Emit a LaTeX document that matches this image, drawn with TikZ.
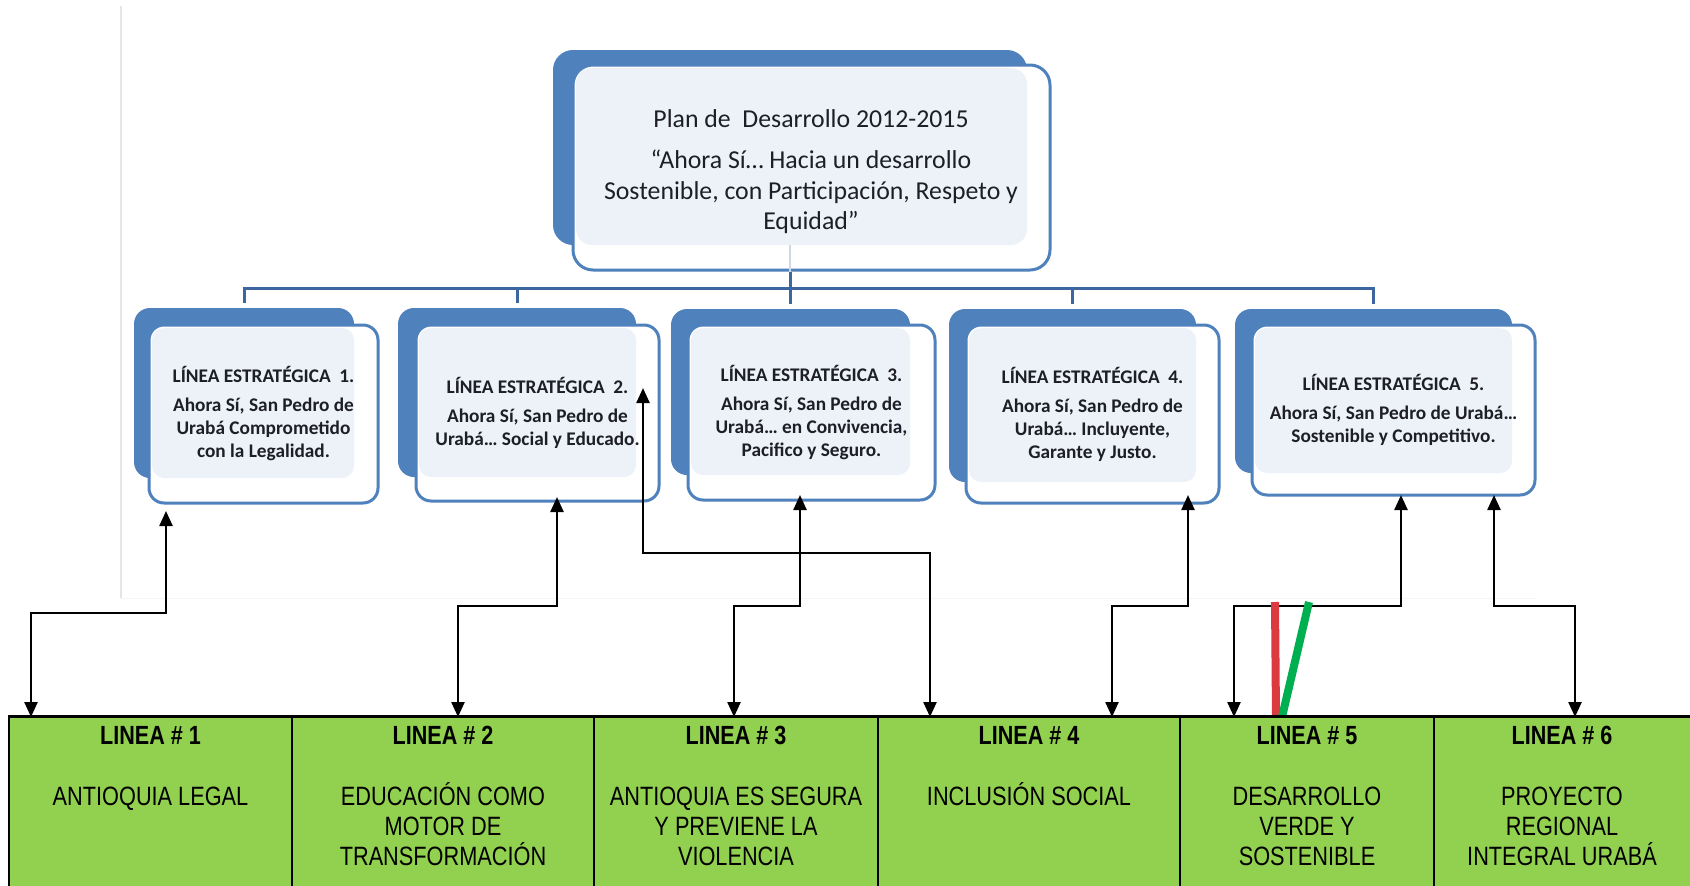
\documentclass[tikz,border=0pt]{standalone}
\usepackage{fontspec}
\newfontfamily\calfont{Carlito}
\newfontfamily\arialfont[FakeStretch=0.82]{Liberation Sans}
\usetikzlibrary{arrows.meta,fit}
\definecolor{accblue}{HTML}{4F81BD}
\definecolor{lightfill}{HTML}{EDF2F9}
\definecolor{treeblue}{HTML}{3B66A0}
\definecolor{tabgreen}{HTML}{92D050}
\definecolor{slashred}{HTML}{DA3A40}
\definecolor{slashgreen}{HTML}{00AF50}
\definecolor{txt}{HTML}{1E1E28}
\begin{document}
\begin{tikzpicture}[x=1pt,y=-1pt,
  backshape/.style={fill=accblue, rounded corners=16pt, inner sep=0pt},
  frontframe/.style={draw=accblue, line width=3pt, rounded corners=15pt, inner sep=0pt},
  lightpart/.style={fill=lightfill, rounded corners=12pt},
  stext/.style={font=\calfont\bfseries\fontsize{19.3}{23}\selectfont, text=txt, align=center, inner sep=0pt},
  ttext/.style={font=\calfont\fontsize{25.8}{31}\selectfont, text=txt, anchor=base, inner sep=0pt},
  tree/.style={draw=treeblue, line width=3pt},
  biarr/.style={line width=2.4pt, {Triangle[length=15pt,width=13pt]}-{Triangle[length=15pt,width=13pt]}},
  cell/.style={fill=tabgreen, draw=black, line width=2pt, inner sep=0pt},
  ltitle/.style={font=\arialfont\bfseries\fontsize{26.3}{30}\selectfont, anchor=base, inner sep=0pt},
  lbody/.style={font=\arialfont\fontsize{26.5}{30}\selectfont, anchor=base, inner sep=0pt},
]
\useasboundingbox (0,0) rectangle (1690,886);
\clip (0,0) rectangle (1690,886);
\fill[white] (0,0) rectangle (1690,886);

% faint frame of an embedded picture
\coordinate (fg1) at (121,6); \coordinate (fg2) at (121,598); \coordinate (fg3) at (1535,598);
\draw[black!10, line width=1.5pt] (fg1) -- (fg2);
\draw[black!4, line width=1pt] (fg2) -- (fg3);

% ---------- top box ----------
\coordinate (b0nw) at (553,50); \coordinate (b0se) at (1027,245);
\coordinate (s0nw) at (573,65); \coordinate (s0se) at (1050,270);
\node[backshape, rounded corners=20pt, fit=(b0nw)(b0se)] (b0) {};
\fill[white, rounded corners=20pt] (s0nw) rectangle (s0se);
\fill[lightpart, rounded corners=16pt] ([xshift=3pt,yshift=-3pt]s0nw) rectangle (b0se);
\node[frontframe, rounded corners=20pt, fit=(s0nw)(s0se)] (s0) {};
\node[ttext] (t0a) at (811,127) {Plan de\ \ Desarrollo 2012-2015};
\node[ttext] (t0b) at (811,168) {“Ahora Sí… Hacia un desarrollo};
\node[ttext] (t0c) at (811,199) {Sostenible, con Participación, Respeto y};
\node[ttext] (t0d) at (811,229) {Equidad”};

% ---------- strategic boxes ----------
% box 1
\coordinate (b1nw) at (134,308); \coordinate (b1se) at (354,478);
\coordinate (s1nw) at (149,325); \coordinate (s1se) at (378,503);
\node[backshape, fit=(b1nw)(b1se)] (b1) {};
\fill[white, rounded corners=15pt] (s1nw) rectangle (s1se);
\fill[lightpart] ([xshift=3pt,yshift=-3pt]s1nw) rectangle (b1se);
\node[frontframe, fit=(s1nw)(s1se)] (s1) {};
\node[stext] (s1t) at (s1.center) {LÍNEA ESTRATÉGICA\ \ 1.\\[6pt]Ahora Sí, San Pedro de\\Urabá Comprometido\\con la Legalidad.};
% box 2
\coordinate (b2nw) at (398,308); \coordinate (b2se) at (636,477);
\coordinate (s2nw) at (416,325); \coordinate (s2se) at (659,501);
\node[backshape, fit=(b2nw)(b2se)] (b2) {};
\fill[white, rounded corners=15pt] (s2nw) rectangle (s2se);
\fill[lightpart] ([xshift=3pt,yshift=-3pt]s2nw) rectangle (b2se);
\node[frontframe, fit=(s2nw)(s2se)] (s2) {};
\node[stext] (s2t) at (s2.center) {LÍNEA ESTRATÉGICA\ \ 2.\\[6pt]Ahora Sí, San Pedro de\\Urabá… Social y Educado.};
% box 3
\coordinate (b3nw) at (671,309); \coordinate (b3se) at (910,475);
\coordinate (s3nw) at (688,325); \coordinate (s3se) at (935,500);
\node[backshape, fit=(b3nw)(b3se)] (b3) {};
\fill[white, rounded corners=15pt] (s3nw) rectangle (s3se);
\fill[lightpart] ([xshift=3pt,yshift=-3pt]s3nw) rectangle (b3se);
\node[frontframe, fit=(s3nw)(s3se)] (s3) {};
\node[stext] (s3t) at (s3.center) {LÍNEA ESTRATÉGICA\ \ 3.\\[6pt]Ahora Sí, San Pedro de\\Urabá… en Convivencia,\\Pacifico y Seguro.};
% box 4
\coordinate (b4nw) at (949,309); \coordinate (b4se) at (1196,482);
\coordinate (s4nw) at (966,325); \coordinate (s4se) at (1219,503);
\node[backshape, fit=(b4nw)(b4se)] (b4) {};
\fill[white, rounded corners=15pt] (s4nw) rectangle (s4se);
\fill[lightpart] ([xshift=3pt,yshift=-3pt]s4nw) rectangle (b4se);
\node[frontframe, fit=(s4nw)(s4se)] (s4) {};
\node[stext] (s4t) at (s4.center) {LÍNEA ESTRATÉGICA\ \ 4.\\[6pt]Ahora Sí, San Pedro de\\Urabá… Incluyente,\\Garante y Justo.};
% box 5
\coordinate (b5nw) at (1235,309); \coordinate (b5se) at (1512,473);
\coordinate (s5nw) at (1252,325); \coordinate (s5se) at (1535,495);
\node[backshape, fit=(b5nw)(b5se)] (b5) {};
\fill[white, rounded corners=15pt] (s5nw) rectangle (s5se);
\fill[lightpart] ([xshift=3pt,yshift=-3pt]s5nw) rectangle (b5se);
\node[frontframe, fit=(s5nw)(s5se)] (s5) {};
\node[stext] (s5t) at (s5.center) {LÍNEA ESTRATÉGICA\ \ 5.\\[6pt]Ahora Sí, San Pedro de Urabá…\\Sostenible y Competitivo.};

% ---------- tree ----------
\coordinate (bar) at (0,288);
\draw[treeblue!25, line width=2pt] (b0.south) -- (b0.south |- s0.south);
\draw[tree] (b0.south |- s0.south) -- (b0.south |- bar);
\draw[tree] ([yshift=5pt]b1.north) |- (bar -| b5.north) -- ([yshift=5pt]b5.north);
\draw[tree] (b2.north |- bar) -- ([yshift=5pt]b2.north);
\draw[tree] (b3.north |- bar) -- ([yshift=5pt]b3.north);
\draw[tree] (b4.north |- bar) -- ([yshift=5pt]b4.north);

% ---------- arrows ----------
\coordinate (a1d) at (31,717);   \coordinate (a1u) at (166,511);
\coordinate (a2d) at (458,717);  \coordinate (a2u) at (557,497);
\coordinate (acd) at (930,717);  \coordinate (acu) at (643,388);
\coordinate (a3d) at (734,717);  \coordinate (a3u) at (800,495);
\coordinate (a4d) at (1112,717); \coordinate (a4u) at (1188,495);
\coordinate (a5d) at (1234,717); \coordinate (a5u) at (1401,495);
\coordinate (a6d) at (1575,717); \coordinate (a6u) at (1494,495);
\draw[biarr] (a1d) -- ++(0,-104) -| (a1u);
\draw[biarr] (a2d) -- ++(0,-111) -| (a2u);
\draw[biarr] (acd) -- ++(0,-164) -| (acu);
\draw[biarr] (a3d) -- ++(0,-111) -| (a3u);
\draw[biarr] (a4d) -- ++(0,-111) -| (a4u);
\draw[biarr] (a5d) -- ++(0,-111) -| (a5u);
\draw[biarr] (a6d) -- ++(0,-111) -| (a6u);

% red and green strokes
\coordinate (rs1) at (1275,602); \coordinate (rs2) at (1276,717);
\coordinate (gs1) at (1309,602); \coordinate (gs2) at (1282,717);
\draw[slashred, line width=8pt] (rs1) -- (rs2);
\draw[slashgreen, line width=8pt] (gs1) -- (gs2);

% ---------- table ----------
\node[cell, minimum width=283pt, minimum height=183pt] (l1) at (150.5,808.5) {};
\node[cell, minimum width=302pt, minimum height=183pt] (l2) at (443,808.5) {};
\node[cell, minimum width=284pt, minimum height=183pt] (l3) at (736,808.5) {};
\node[cell, minimum width=302pt, minimum height=183pt] (l4) at (1029,808.5) {};
\node[cell, minimum width=254pt, minimum height=183pt] (l5) at (1307,808.5) {};
\node[cell, minimum width=266pt, minimum height=183pt] (l6) at (1567,808.5) {};
\draw[line width=3pt] (l1.north west) -- (l6.north east);

\node[ltitle] (l1a) at (150.5,744) {LINEA \# 1};
\node[lbody]  (l1b) at (150.5,805) {ANTIOQUIA LEGAL};

\node[ltitle] (l2a) at (443,744) {LINEA \# 2};
\node[lbody]  (l2b) at (443,805) {EDUCACIÓN COMO};
\node[lbody]  (l2c) at (443,835) {MOTOR DE};
\node[lbody]  (l2d) at (443,865) {TRANSFORMACIÓN};

\node[ltitle] (l3a) at (736,744) {LINEA \# 3};
\node[lbody]  (l3b) at (736,805) {ANTIOQUIA ES SEGURA};
\node[lbody]  (l3c) at (736,835) {Y PREVIENE LA};
\node[lbody]  (l3d) at (736,865) {VIOLENCIA};

\node[ltitle] (l4a) at (1029,744) {LINEA \# 4};
\node[lbody]  (l4b) at (1029,805) {INCLUSIÓN SOCIAL};

\node[ltitle] (l5a) at (1307,744) {LINEA \# 5};
\node[lbody]  (l5b) at (1307,805) {DESARROLLO};
\node[lbody]  (l5c) at (1307,835) {VERDE Y};
\node[lbody]  (l5d) at (1307,865) {SOSTENIBLE};

\node[ltitle] (l6a) at (1562,744) {LINEA \# 6};
\node[lbody]  (l6b) at (1562,805) {PROYECTO};
\node[lbody]  (l6c) at (1562,835) {REGIONAL};
\node[lbody]  (l6d) at (1562,865) {INTEGRAL URABÁ};
\end{tikzpicture}
\end{document}
